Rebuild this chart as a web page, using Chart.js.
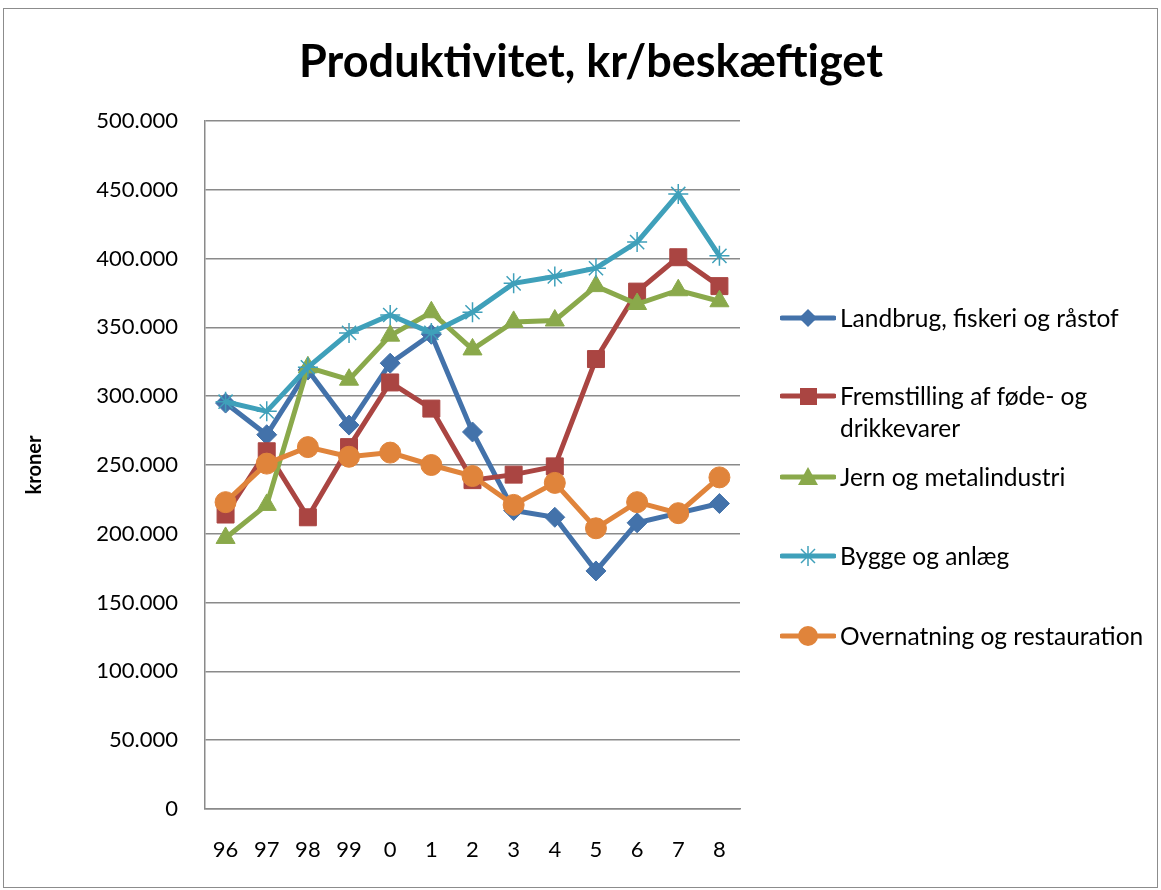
<!DOCTYPE html>
<html>
<head>
<meta charset="utf-8">
<script src="https://cdn.jsdelivr.net/npm/chart.js@4.4.0/dist/chart.umd.min.js"></script>
<style>
    body { margin: 0; background: #fff; font-family: Lato, "Open Sans", sans-serif; }
    #wrap { position: relative; width: 1161px; height: 890px; overflow: hidden; }
    #frame { position: absolute; left: 3px; top: 8px; width: 1155px; height: 880px; border: 1px solid #8c8c8c; box-sizing: border-box; }
    #chart { position: absolute; left: 0; top: 0; }
    #title { position: absolute; left: 241px; width: 700px; top: 33px; text-align: center; font-weight: bold; font-size: 45px; line-height: 54px; color: #000; }
    .item { position: absolute; left: 780px; display: flex; align-items: flex-start; font-size: 24.5px; line-height: 32px; color: #000; }
    .item svg { flex: none; margin-top: 4px; }
    .item span { margin-left: 4px; width: 330px; }
</style>
</head>
<body>
<div id="wrap">
    <div id="frame"></div>
    <canvas id="chart" width="1161" height="890"></canvas>
    <div id="title">Produktivitet, kr/beskæftiget</div>
    <div id="legend"></div>
</div>
<script>
    // Data
    var labels = ["96", "97", "98", "99", "0", "1", "2", "3", "4", "5", "6", "7", "8"];
    var seriesNames = ["Landbrug, fiskeri og råstof", "Fremstilling af føde- og drikkevarer", "Jern og metalindustri", "Bygge og anlæg", "Overnatning og restauration"];
    var landbrug = [295000, 272000, 319000, 279000, 324000, 345000, 274000, 217000, 212000, 173000, 208000, 215000, 222000];
    var foedevarer = [214000, 260000, 212000, 263000, 310000, 291000, 239000, 243000, 249000, 327000, 376000, 401000, 380000];
    var jern = [197000, 221000, 321000, 312000, 344000, 361000, 334000, 354000, 355000, 380000, 367000, 377000, 369000];
    var bygge = [296000, 289000, 321000, 346000, 359000, 346000, 361000, 382000, 387000, 393000, 412000, 447000, 402000];
    var overnatning = [223000, 251000, 263000, 256000, 259000, 250000, 242000, 221000, 237000, 204000, 223000, 215000, 241000];

    var colors = ["#4372AA", "#AA4542", "#8AA94B", "#3FA0BA", "#E0843B"];
    var styles = ["rectRot", "rect", "triangle", "star", "circle"];
    var radii = [10, 12, 11, 10, 10.5];
    var values = [landbrug, foedevarer, jern, bygge, overnatning];

    function fmt(v) {
        return String(v).replace(/\B(?=(\d{3})+(?!\d))/g, ".");
    }

    var datasets = values.map(function (d, i) {
        return {
            label: seriesNames[i],
            data: d,
            borderColor: colors[i],
            backgroundColor: colors[i],
            borderWidth: 5,
            pointStyle: styles[i],
            pointRadius: radii[i],
            pointBackgroundColor: colors[i],
            pointBorderColor: colors[i],
            pointBorderWidth: styles[i] === "star" ? 1.5 : 1,
            tension: 0,
            order: 5 - i
        };
    });

    var gridColor = "#8a8a8a";
    var tickFont = { family: "Lato, 'Open Sans', sans-serif", size: 22 };

    new Chart(document.getElementById("chart").getContext("2d"), {
        type: "line",
        data: { labels: labels, datasets: datasets },
        options: {
            responsive: false,
            animation: false,
            layout: { padding: { left: 0, top: 121, right: 421, bottom: 0 } },
            plugins: {
                legend: { display: false },
                title: { display: false },
                tooltip: { enabled: false }
            },
            scales: {
                x: {
                    offset: true,
                    grid: { display: false, drawTicks: false },
                    border: { color: gridColor, width: 1.5 },
                    ticks: { color: "#000", font: tickFont, padding: 28, maxRotation: 0 },
                    afterFit: function (s) { s.height = 81; }
                },
                y: {
                    min: 0,
                    max: 500000,
                    grid: { color: gridColor, lineWidth: 1.5, drawTicks: false },
                    border: { color: gridColor, width: 1.5 },
                    ticks: { stepSize: 50000, color: "#000", font: tickFont, padding: 27, callback: function (v) { return fmt(v); } },
                    title: { display: true, text: "kroner", color: "#000", font: { family: "Lato, 'Open Sans', sans-serif", size: 20, weight: "bold" }, padding: { top: 23, bottom: 0 } },
                    afterFit: function (s) { s.width = 205; }
                }
            }
        }
    });

    // Legend
    var tops = [302, 380, 461, 540, 620];
    var legend = document.getElementById("legend");
    values.forEach(function (d, i) {
        var c = colors[i], m = "";
        if (styles[i] === "rectRot") m = '<polygon points="28,3 37,12 28,21 19,12" fill="' + c + '"/>';
        if (styles[i] === "rect") m = '<rect x="20" y="4" width="17" height="17" fill="' + c + '"/>';
        if (styles[i] === "triangle") m = '<polygon points="28,2 38,20 18,20" fill="' + c + '"/>';
        if (styles[i] === "star") m = '<g stroke="' + c + '" stroke-width="1.5"><line x1="28" y1="2" x2="28" y2="22"/><line x1="18" y1="12" x2="38" y2="12"/><line x1="21" y1="5" x2="35" y2="19"/><line x1="35" y1="5" x2="21" y2="19"/></g>';
        if (styles[i] === "circle") m = '<circle cx="28" cy="12" r="10" fill="' + c + '"/>';
        var div = document.createElement("div");
        div.className = "item";
        div.style.top = tops[i] + "px";
        div.innerHTML = '<svg width="56" height="24"><line x1="2" y1="12" x2="54" y2="12" stroke="' + c + '" stroke-width="5" stroke-linecap="round"/>' + m + '</svg><span>' + seriesNames[i].replace("føde- og ", "føde- og<br>") + '</span>';
        legend.appendChild(div);
    });
</script>
</body>
</html>
